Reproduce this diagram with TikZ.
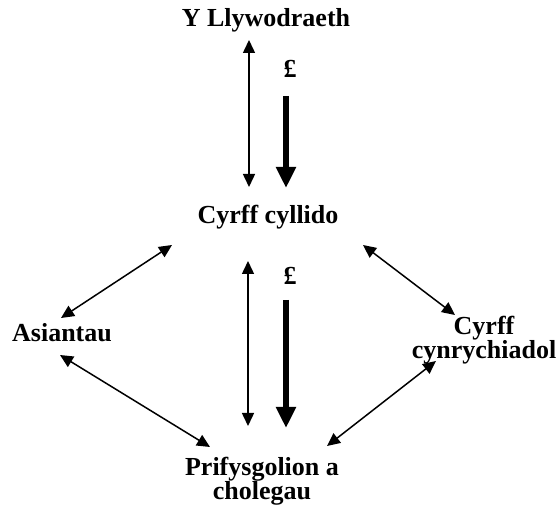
\documentclass[tikz,border=0pt]{standalone}
\usepackage{fontspec}
\setmainfont{Liberation Serif}
\usetikzlibrary{arrows.meta}
\begin{document}
\begin{tikzpicture}[x=1pt,y=-1pt,
  lbl/.style={font=\fontsize{26}{24}\selectfont\bfseries, inner sep=0pt, align=center},
  thin/.style={line width=1.5pt, {Triangle[length=13pt,width=12pt]}-{Triangle[length=13pt,width=12pt]}},
  money/.style={line width=6.5pt, -{Triangle[length=21pt,width=19pt]}}]
\useasboundingbox (0,0) rectangle (560,510);
% labels
\node[lbl, anchor=base] (gov) at (266,27) {Y Llywodraeth};
\node[lbl, anchor=base] (fund) at (268,224) {Cyrff cyllido};
\node[lbl, anchor=base] (agent) at (62,342) {Asiantau};
\node[lbl] (rep) at (484,340) {Cyrff\\cynrychiadol};
\node[lbl] (uni) at (262,481) {Prifysgolion a\\cholegau};
\node[lbl, anchor=center] (p1) at (290,69) {£};
\node[lbl, anchor=center] (p2) at (290,276) {£};
% arrow end points
\coordinate (g1) at (249,40);  \coordinate (f1) at (249,187);
\coordinate (m1) at (286,96);  \coordinate (m1e) at (286,188);
\coordinate (f2) at (248,261); \coordinate (u2) at (248,426);
\coordinate (m2) at (286,300); \coordinate (m2e) at (286,428);
\coordinate (fa) at (172,245); \coordinate (af) at (61,318);
\coordinate (au) at (60,355);  \coordinate (ua) at (210,447);
\coordinate (fr) at (363,245); \coordinate (rf) at (455,315);
\coordinate (ru) at (436,361); \coordinate (ur) at (327,446);
% connectors
\draw[thin] (g1) -- (f1);
\draw[money] (m1) -- (m1e);
\draw[thin] (f2) -- (u2);
\draw[money] (m2) -- (m2e);
\draw[thin] (fa) -- (af);
\draw[thin] (au) -- (ua);
\draw[thin] (fr) -- (rf);
\draw[thin] (ru) -- (ur);
\end{tikzpicture}
\end{document}
